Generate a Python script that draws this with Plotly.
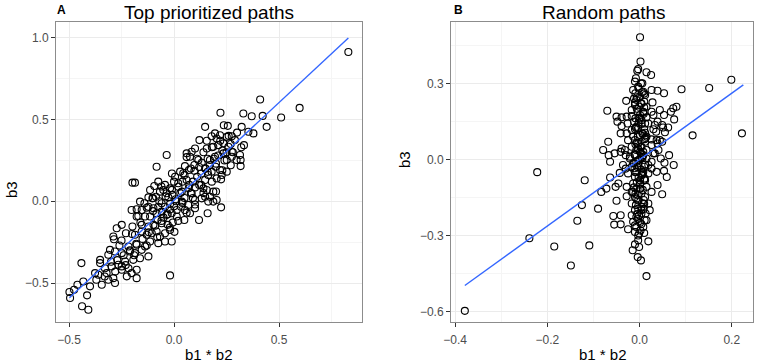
import plotly.graph_objects as go

# ---------------- Panel A: Top prioritized paths ----------------
a_x = [0.221, 0.330, 0.370, 0.422, 0.237, 0.256, 0.148, 0.322, 0.378, 0.354,
       0.179, 0.203, 0.219, 0.251, 0.275, 0.290, 0.156, 0.121, 0.195, 0.100,
       0.084, 0.076, 0.060, 0.156, 0.187, 0.211, 0.235, 0.259, 0.333, 0.314,
       0.275, 0.251, 0.235, 0.195, 0.171, 0.132, 0.116, -0.035, 0.275, 0.298,
       0.097, 0.097, 0.071, 0.052, 0.044, 0.029, -0.083, 0.317, 0.317, 0.179,
       0.163, 0.227, 0.251, 0.219, 0.198, 0.148, 0.005, 0.000, 0.021, 0.037,
       0.060, 0.073, 0.100, 0.129, 0.148, 0.203, 0.224, -0.186, -0.198, -0.075,
       -0.094, -0.114, -0.067, -0.051, -0.035, 0.084, 0.156, 0.140, 0.187, -0.008,
       -0.043, -0.019, -0.122, -0.103, -0.086, -0.027, 0.008, -0.019, -0.043, -0.059,
       -0.075, -0.098, -0.122, -0.141, -0.162, -0.178, -0.202, -0.154, 0.013, 0.033,
       0.052, 0.068, 0.100, 0.100, 0.132, 0.148, 0.171, 0.163, 0.187, 0.203,
       0.224, 0.037, -0.138, -0.114, -0.083, -0.059, -0.035, -0.011, 0.076, 0.119,
       0.160, 0.049, 0.013, -0.006, -0.030, -0.059, -0.078, -0.098, -0.122, -0.154,
       -0.178, -0.198, -0.249, -0.273, -0.229, -0.154, -0.130, -0.106, -0.083, -0.067,
       -0.043, -0.019, 0.002, -0.011, -0.043, -0.075, -0.114, -0.289, -0.286, -0.186,
       -0.138, -0.178, -0.217, -0.305, -0.313, -0.281, -0.249, -0.210, -0.186, -0.154,
       -0.122, -0.162, -0.194, -0.352, -0.352, -0.233, -0.265, -0.297, -0.329, -0.360,
       -0.321, -0.313, -0.289, -0.249, -0.217, -0.225, -0.178, -0.178, -0.019, -0.344,
       -0.281, -0.249, -0.202, -0.376,
       0.830, 0.410, 0.598, 0.510, 0.441, -0.408, -0.438, -0.414, -0.495, -0.498,
       -0.460, -0.432, -0.476, -0.441]
a_y = [0.541, 0.537, 0.520, 0.522, 0.465, 0.461, 0.455, 0.455, 0.415, 0.425,
       0.398, 0.384, 0.404, 0.394, 0.398, 0.374, 0.370, 0.374, 0.415, 0.323,
       0.303, 0.272, 0.293, 0.323, 0.333, 0.343, 0.354, 0.333, 0.343, 0.283,
       0.272, 0.252, 0.293, 0.272, 0.252, 0.236, 0.252, 0.283, 0.303, 0.252,
       0.222, 0.187, 0.191, 0.215, 0.171, 0.181, 0.211, 0.215, 0.252, 0.181,
       0.161, 0.161, 0.181, 0.191, 0.211, 0.201, 0.150, 0.120, 0.089, 0.059,
       0.130, 0.100, 0.085, 0.100, 0.130, 0.140, 0.134, 0.114, 0.114, 0.120,
       0.093, 0.069, 0.059, 0.069, 0.049, 0.049, 0.069, 0.079, 0.059, 0.039,
       0.100, 0.079, 0.024, 0.018, 0.028, 0.024, 0.012, -0.016, -0.033, -0.012,
       -0.033, -0.043, -0.033, -0.012, -0.002, -0.049, -0.053, -0.053, -0.053, -0.033,
       -0.053, -0.022, -0.043, 0.008, 0.018, 0.028, 0.028, -0.002, -0.002, 0.008,
       -0.037, -0.002, -0.093, -0.093, -0.073, -0.063, -0.083, -0.073, -0.073, -0.114,
       -0.073, -0.114, -0.093, -0.130, -0.144, -0.134, -0.114, -0.144, -0.154, -0.144,
       -0.093, -0.154, -0.144, -0.165, -0.195, -0.185, -0.205, -0.195, -0.185, -0.215,
       -0.195, -0.175, -0.187, -0.246, -0.246, -0.256, -0.246, -0.215, -0.232, -0.205,
       -0.276, -0.266, -0.276, -0.297, -0.327, -0.307, -0.317, -0.307, -0.317, -0.297,
       -0.337, -0.348, -0.358, -0.358, -0.378, -0.368, -0.388, -0.398, -0.409, -0.449,
       -0.439, -0.480, -0.470, -0.419, -0.409, -0.459, -0.419, -0.470, -0.453, -0.510,
       -0.500, -0.398, -0.439, -0.439,
       0.913, 0.622, 0.571, 0.512, 0.455, -0.663, -0.642, -0.575, -0.591, -0.555,
       -0.510, -0.490, -0.541, -0.378]
# further points of the dense central band of panel A
a_x_more = [-0.05, -0.02, 0.01, 0.03, 0.05, 0.07, 0.09, 0.11, 0.13, 0.15,
            0.17, 0.19, 0.21, 0.23, 0.25, 0.27, 0.24, 0.20, 0.16, 0.12,
            0.08, 0.04, 0.00, -0.03, -0.06, -0.09, -0.12, -0.15, -0.18, -0.21,
            -0.24, -0.27, -0.30, -0.26, -0.20, -0.16, -0.10, -0.07, -0.04, -0.01,
            0.02, 0.05, 0.08, 0.11, 0.14, 0.18, 0.22, 0.26, 0.30, 0.28,
            0.18, 0.14, 0.10, 0.06, 0.02, -0.02, -0.08, -0.13, -0.19, -0.23,
            -0.28, -0.33, -0.37, -0.40, -0.10, -0.13, 0.04, 0.09, 0.23, 0.12,
            0.16, -0.06, -0.17, -0.25, 0.32, 0.06, -0.01, 0.20, 0.27]
a_y_more = [-0.10, -0.05, 0.00, 0.05, 0.02, 0.08, 0.12, 0.15, 0.17, 0.20,
            0.22, 0.26, 0.28, 0.31, 0.30, 0.35, 0.25, 0.23, 0.18, 0.10,
            0.05, -0.01, -0.03, -0.08, -0.12, -0.15, -0.19, -0.23, -0.26, -0.30,
            -0.33, -0.36, -0.37, -0.27, -0.20, -0.13, -0.06, 0.00, 0.03, 0.07,
            0.11, 0.16, 0.20, 0.26, 0.30, 0.33, 0.37, 0.40, 0.42, 0.30,
            0.12, 0.05, -0.02, -0.07, -0.12, -0.16, -0.22, -0.27, -0.33, -0.39,
            -0.43, -0.46, -0.48, -0.52, 0.02, -0.04, 0.12, 0.02, 0.19, 0.21,
            0.26, 0.09, -0.09, -0.24, 0.33, 0.27, 0.17, 0.06, 0.22]
a_fit_x = [-0.498, 0.830]
a_fit_y = [-0.590, 0.998]

# ---------------- Panel B: Random paths ----------------
b_x = [0.002, -0.003, -0.005, 0.015, 0.025, -0.010, 0.003, -0.003, -0.014, 0.008,
       -0.009, 0.001, 0.012, 0.026, 0.039, 0.053, -0.029, -0.070, 0.010, 0.028,
       -0.010, -0.001, 0.015, -0.017, 0.026, 0.044, 0.053, 0.073, 0.080, 0.068,
       0.075, 0.062, -0.050, -0.039, -0.028, -0.017, 0.001, 0.015, 0.030, 0.039,
       -0.048, -0.039, -0.026, -0.012, 0.004, 0.019, -0.041, -0.028, -0.017, -0.003,
       0.010, 0.030, 0.036, 0.051, 0.055, 0.049, 0.033, 0.044, 0.037, 0.026,
       0.015, 0.001, -0.014, -0.025, -0.039, -0.068, -0.079, -0.067, -0.054, -0.064,
       -0.032, -0.017, -0.003, 0.012, 0.026, 0.039, 0.049, 0.041, 0.030, 0.015,
       0.001, -0.010, -0.021, -0.030, -0.041, -0.036, 0.015, 0.026, 0.033, 0.046,
       0.064, 0.054, 0.074, 0.053, 0.059, 0.039, 0.049, -0.043, -0.030, -0.017,
       -0.003, 0.010, 0.026, 0.037, -0.025, -0.010, 0.004, 0.019, 0.001, -0.014,
       -0.028, -0.064, -0.072, -0.046, -0.052, -0.028, -0.014, 0.001, 0.015, 0.026,
       0.012, -0.003, -0.017, -0.010, 0.004, 0.019, 0.022, 0.004, -0.007, -0.014,
       0.001, 0.015, -0.083, -0.050, -0.090, -0.057, -0.041, -0.055, -0.041, -0.025,
       -0.010, -0.001, 0.010, -0.007, 0.019, -0.015, -0.010, -0.001, -0.004, 0.003,
       0.015, -0.119, -0.109, 0.115,
       -0.007, 0.004, -0.004, 0.008, -0.009, 0.012, -0.007, 0.006, -0.010, 0.004,
       -0.007, 0.008, -0.003, -0.014, 0.008, -0.007, 0.012, -0.007, 0.004, -0.010,
       0.008, -0.003, 0.013, -0.017, 0.008, -0.003, -0.021, 0.019, -0.017,
       -0.379, -0.239, -0.222, -0.185, -0.149, -0.125, -0.135, 0.222, 0.199, 0.151,
       0.091, 0.001]
b_y = [0.386, 0.356, 0.350, 0.344, 0.333, 0.307, 0.300, 0.287, 0.274, 0.267,
       0.261, 0.248, 0.254, 0.274, 0.271, 0.261, 0.231, 0.192, 0.228, 0.225,
       0.215, 0.208, 0.208, 0.195, 0.188, 0.195, 0.175, 0.202, 0.208, 0.188,
       0.158, 0.126, 0.169, 0.166, 0.169, 0.171, 0.175, 0.166, 0.175, 0.149,
       0.149, 0.132, 0.142, 0.149, 0.155, 0.142, 0.103, 0.103, 0.116, 0.123,
       0.119, 0.119, 0.109, 0.126, 0.107, 0.136, 0.136, 0.076, 0.076, 0.079,
       0.090, 0.096, 0.090, 0.076, 0.043, 0.070, 0.037, 0.017, 0.024, -0.009,
       0.037, 0.050, 0.063, 0.070, 0.057, 0.063, 0.070, 0.037, 0.024, 0.037,
       0.030, 0.017, 0.011, 0.017, 0.030, -0.022, 0.004, -0.009, 0.024, 0.004,
       0.017, -0.013, -0.022, -0.045, -0.069, -0.101, -0.137, -0.053, -0.036, -0.029,
       -0.022, -0.029, -0.036, -0.049, -0.055, -0.069, -0.062, -0.055, -0.082, -0.095,
       -0.108, -0.071, -0.115, -0.095, -0.108, -0.145, -0.128, -0.115, -0.108, -0.128,
       -0.148, -0.161, -0.174, -0.200, -0.187, -0.174, -0.200, -0.213, -0.227, -0.246,
       -0.250, -0.240, -0.128, -0.163, -0.194, -0.223, -0.220, -0.257, -0.256, -0.275,
       -0.286, -0.292, -0.290, -0.266, -0.323, -0.358, -0.335, -0.345, -0.385, -0.398,
       -0.460, -0.082, -0.339, 0.095,
       0.235, 0.221, 0.188, 0.188, 0.162, 0.142, 0.129, 0.103, 0.076, 0.050,
       0.037, 0.017, -0.003, -0.016, -0.049, -0.049, -0.082, -0.115, -0.134, -0.148,
       -0.174, -0.194, -0.213, -0.220, -0.266, -0.319, 0.004, -0.022, -0.128,
       -0.597, -0.311, -0.050, -0.343, -0.418, -0.180, -0.242, 0.103, 0.314, 0.282,
       0.277, 0.482]
# further points of the dense vertical column of panel B
b_x_more = [-0.008, 0.006, -0.002, 0.010, -0.012, 0.003, -0.006, 0.009, -0.001, 0.004,
            -0.010, 0.007, -0.004, 0.011, -0.009, 0.002, -0.003, 0.008, -0.011, 0.005,
            0.000, -0.007, 0.012, -0.005, 0.003, -0.009, 0.006, -0.002, 0.010, -0.006,
            0.001, -0.012, 0.007, -0.004, 0.009, -0.008, 0.004, -0.001, 0.011, -0.010,
            0.002, -0.003,
            0.004, -0.005, 0.010, -0.009, 0.001, 0.007, -0.012, 0.003, -0.006, 0.012,
            -0.002, 0.008, -0.010, 0.005, -0.003, 0.009, -0.007, 0.002, 0.011, -0.011,
            0.006, -0.004, 0.013, -0.008, 0.000, 0.010, -0.006]
b_y_more = [0.32, 0.30, 0.28, 0.26, 0.24, 0.22, 0.20, 0.18, 0.16, 0.14,
            0.12, 0.10, 0.09, 0.08, 0.06, 0.05, 0.04, 0.03, 0.02, 0.01,
            0.00, -0.01, -0.02, -0.03, -0.04, -0.05, -0.06, -0.07, -0.08, -0.09,
            -0.10, -0.11, -0.12, -0.14, -0.16, -0.18, -0.20, -0.22, -0.24, -0.26,
            -0.28, -0.30,
            -0.255, -0.215, -0.175, -0.135, -0.095, -0.055, -0.015, 0.025, 0.065, 0.105,
            0.145, 0.185, 0.225, 0.265, -0.235, -0.195, -0.155, -0.115, -0.075, -0.035,
            0.005, 0.045, 0.085, 0.125, 0.165, 0.205, 0.245]
b_fit_x = [-0.379, 0.225]
b_fit_y = [-0.497, 0.294]

# ---------------- Figure ----------------
marker = dict(symbol="circle-open", size=7, color="black", line=dict(width=1.1, color="black"))
line_style = dict(color="#3366FF", width=1.4)

fig = go.Figure()
fig.add_trace(go.Scatter(x=a_x + a_x_more, y=a_y + a_y_more, mode="markers", marker=marker,
                         xaxis="x", yaxis="y", showlegend=False))
fig.add_trace(go.Scatter(x=a_fit_x, y=a_fit_y, mode="lines", line=line_style,
                         xaxis="x", yaxis="y", showlegend=False))
fig.add_trace(go.Scatter(x=b_x + b_x_more, y=b_y + b_y_more, mode="markers", marker=marker,
                         xaxis="x2", yaxis="y2", showlegend=False))
fig.add_trace(go.Scatter(x=b_fit_x, y=b_fit_y, mode="lines", line=line_style,
                         xaxis="x2", yaxis="y2", showlegend=False))

W, H = 760, 364
yd = [1 - 322 / H, 1 - 22 / H]
common = dict(showline=True, mirror=True, linecolor="#8c8c8c", linewidth=1,
              showgrid=True, gridcolor="#ebebeb", gridwidth=1,
              zeroline=False, ticks="outside", ticklen=4, tickcolor="#333333",
              tickwidth=1, tickfont=dict(family="Liberation Sans, Arial", size=12, color="#4d4d4d"),
              tickformat=".1f", automargin=False)
minor = dict(showgrid=True, gridcolor="#f5f5f5", gridwidth=1, ticks="")

fig.update_layout(
    width=W, height=H, margin=dict(l=0, r=0, t=0, b=0),
    paper_bgcolor="white", plot_bgcolor="white",
    xaxis=dict(domain=[56 / W, 362 / W], range=[-0.562, 0.895],
               tickvals=[-0.5, 0.0, 0.5], anchor="y", ticklabelstandoff=3,
               minor=dict(minor, dtick=0.25, tick0=-0.75), **common),
    yaxis=dict(domain=yd, range=[-0.738, 1.096],
               tickvals=[-0.5, 0.0, 0.5, 1.0], anchor="x",
               minor=dict(minor, dtick=0.25, tick0=-0.75), **common),
    xaxis2=dict(domain=[451 / W, 753 / W], range=[-0.409, 0.246],
                tickvals=[-0.4, -0.2, 0.0, 0.2], anchor="y2", ticklabelstandoff=3,
                minor=dict(minor, dtick=0.1, tick0=-0.5), **common),
    yaxis2=dict(domain=yd, range=[-0.641, 0.542],
                tickvals=[-0.6, -0.3, 0.0, 0.3], anchor="x2",
                minor=dict(minor, dtick=0.15, tick0=-0.75), **common),
    font=dict(family="Liberation Sans, Arial", color="black"),
)

ann_font = dict(family="Liberation Sans, Arial", color="black")
annotations = [
    dict(text="Top prioritized paths", x=209 / W, y=1 - 13 / H, font=dict(ann_font, size=19)),
    dict(text="Random paths", x=604 / W, y=1 - 13 / H, font=dict(ann_font, size=19)),
    dict(text="<b>A</b>", x=61 / W, y=1 - 10 / H, font=dict(ann_font, size=12)),
    dict(text="<b>B</b>", x=458 / W, y=1 - 10 / H, font=dict(ann_font, size=12)),
    dict(text="b1 * b2", x=209 / W, y=1 - 354 / H, font=dict(ann_font, size=15)),
    dict(text="b1 * b2", x=603 / W, y=1 - 354 / H, font=dict(ann_font, size=15)),
    dict(text="b3", x=11 / W, y=1 - 190 / H, textangle=-90, font=dict(ann_font, size=15)),
    dict(text="b3", x=404 / W, y=1 - 160 / H, textangle=-90, font=dict(ann_font, size=15)),
]
for a in annotations:
    a.update(xref="paper", yref="paper", showarrow=False, xanchor="center", yanchor="middle")
fig.update_layout(annotations=annotations)

fig.write_html("out.html", config={"displayModeBar": False},
               post_script="document.body.style.margin='0px';document.body.style.padding='0px';")
